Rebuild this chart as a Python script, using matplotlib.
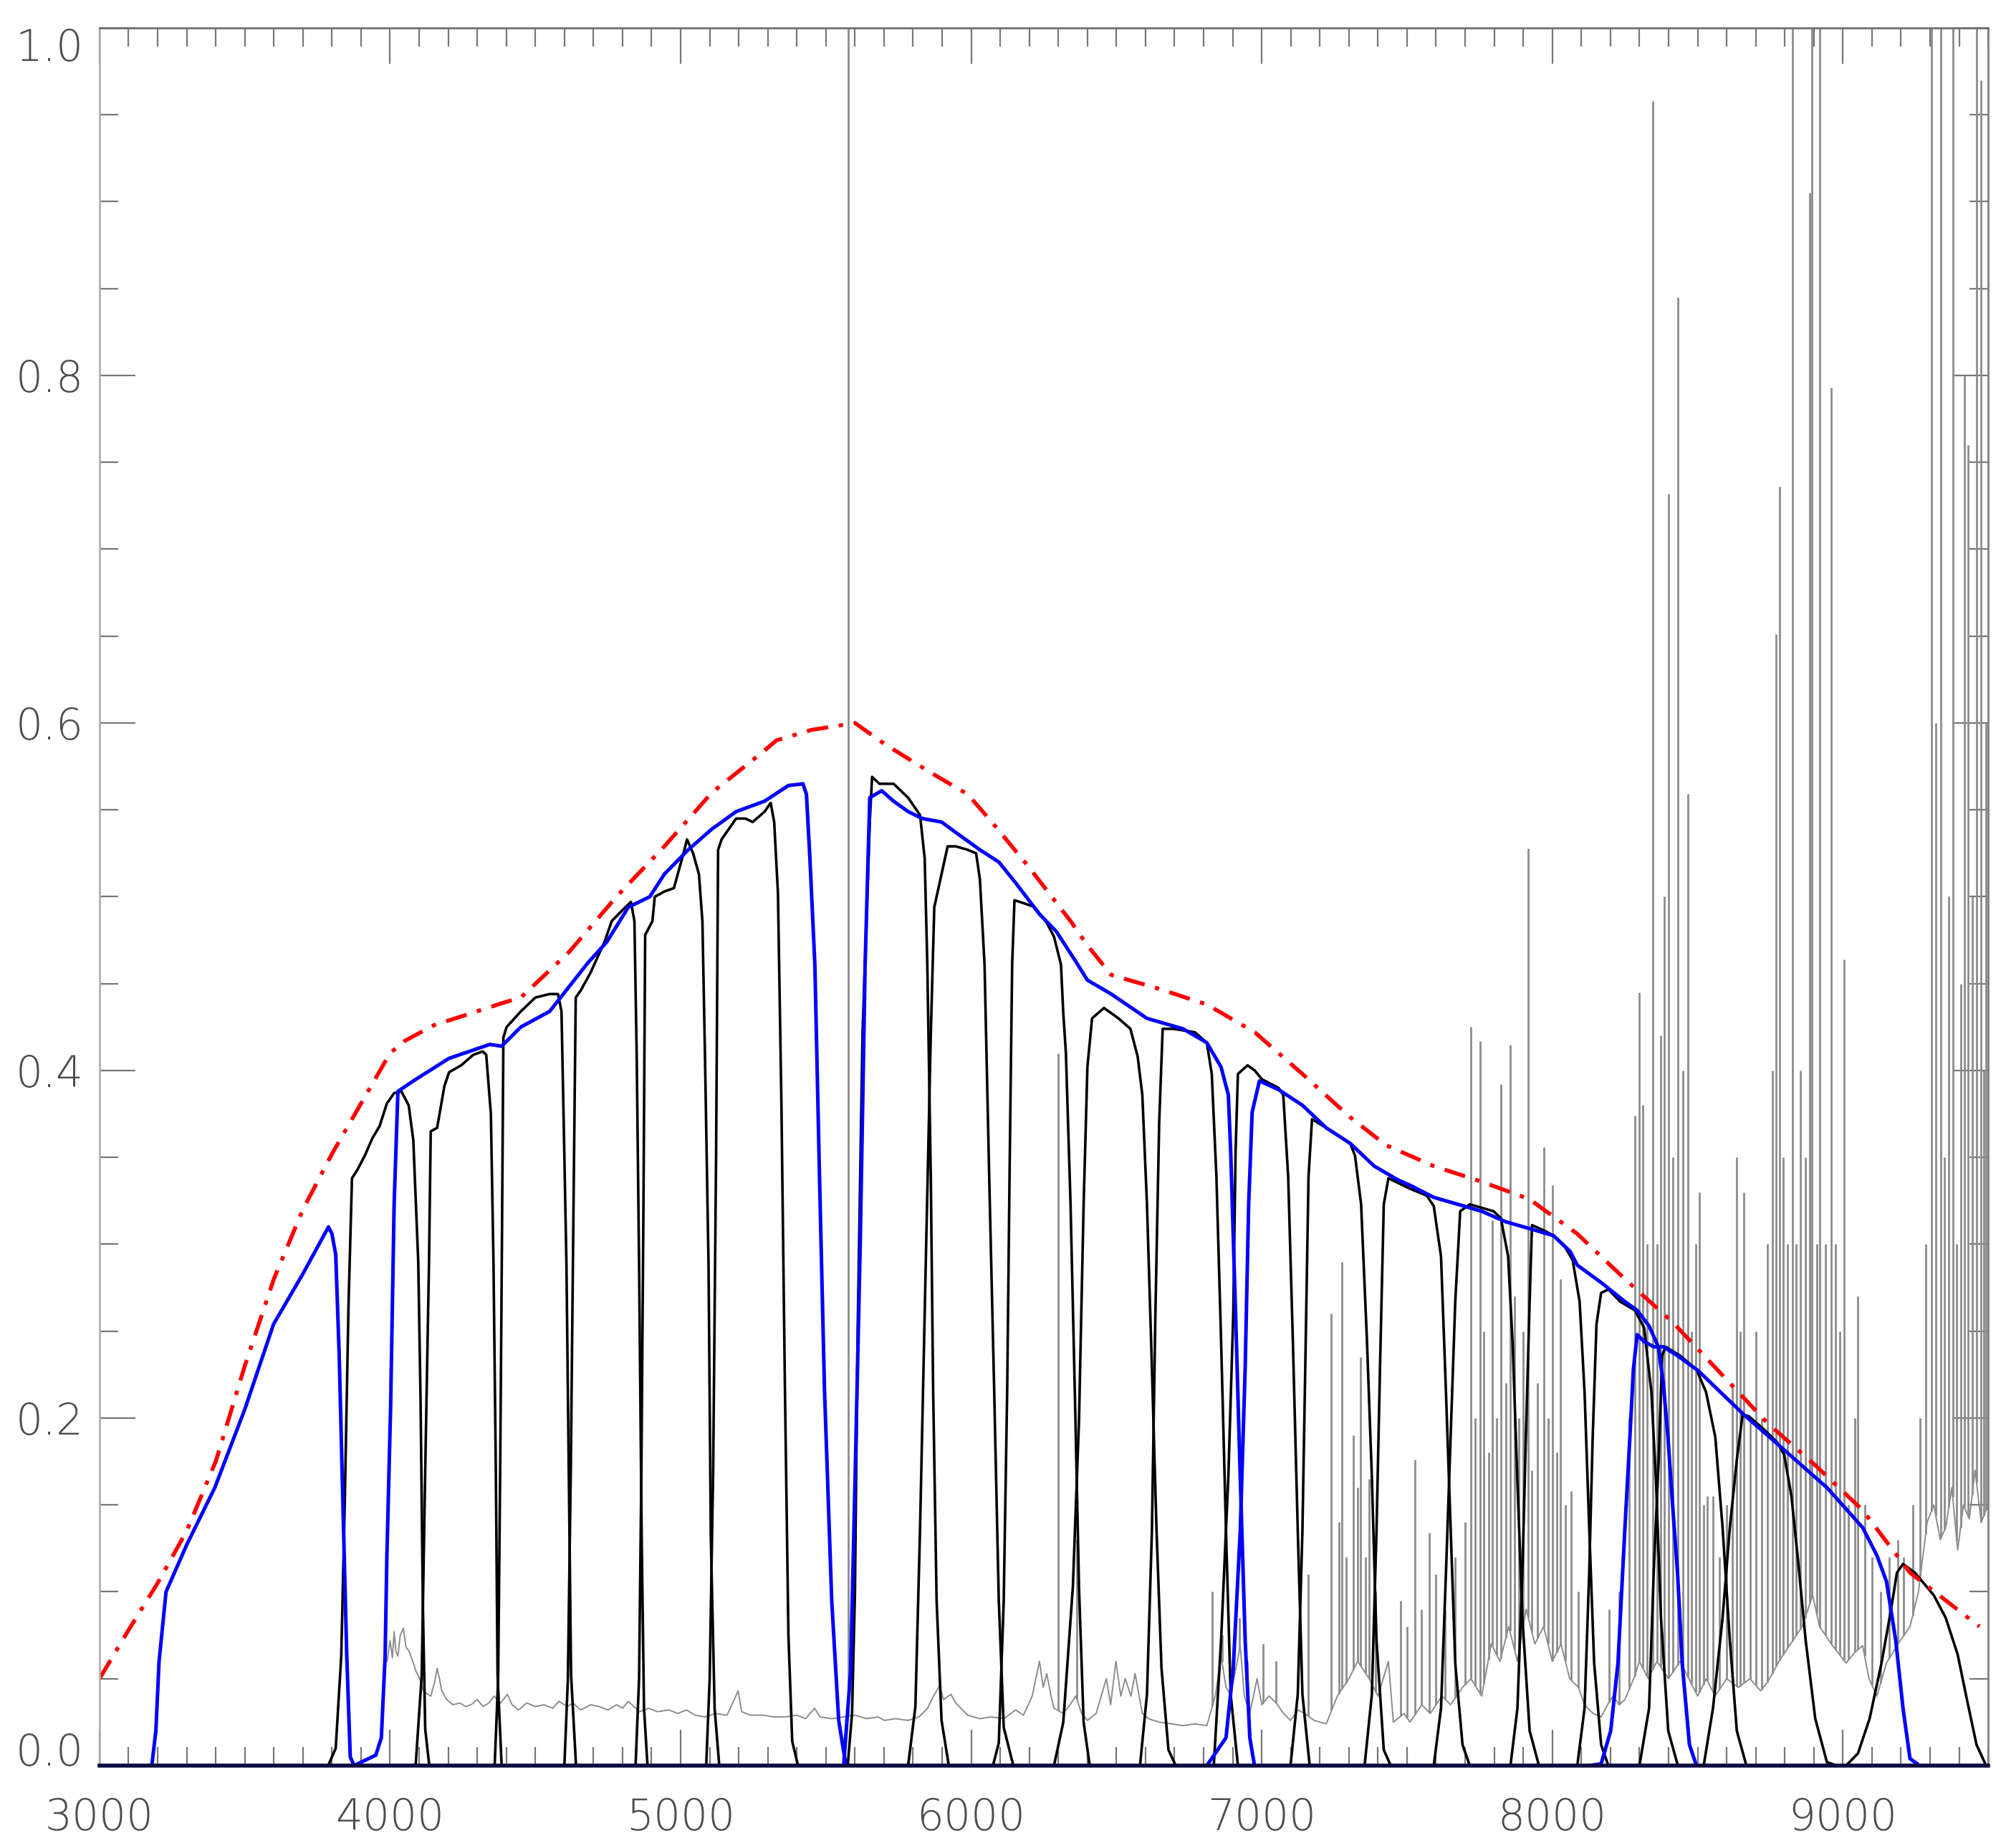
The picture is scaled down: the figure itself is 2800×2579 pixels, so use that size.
import numpy as np
import matplotlib
matplotlib.use('Agg')
import matplotlib.pyplot as plt
from matplotlib.ticker import MultipleLocator

# total throughput (red dash-dot)
tot_wl = [3000, 3100, 3200, 3300, 3400, 3500, 3600, 3700, 3800, 3900, 4000, 4050, 4150, 4280, 4390,
          4450, 4615, 4779, 4944, 5108, 5273, 5330, 5450, 5600, 5701, 5865, 5988, 6071, 6194, 6342,
          6400, 6482, 6647, 6811, 6976, 7140, 7305, 7428, 7592, 7757, 7921, 8086, 8250, 8415, 8578,
          8741, 8904, 9068, 9231, 9470]
tot_tr = [0.05, 0.078, 0.105, 0.135, 0.175, 0.23, 0.28, 0.32, 0.352, 0.381, 0.41, 0.417, 0.426, 0.433, 0.439,
          0.442, 0.468, 0.5, 0.529, 0.56, 0.582, 0.59, 0.596, 0.6, 0.588, 0.571, 0.559, 0.543, 0.518, 0.486,
          0.472, 0.455, 0.447, 0.438, 0.422, 0.398, 0.373, 0.357, 0.345, 0.336, 0.326, 0.306, 0.28, 0.255, 0.226,
          0.197, 0.173, 0.147, 0.111, 0.08]

# broad-band filters (blue)
bb1_wl = [3180, 3194, 3205, 3229, 3300, 3397, 3500, 3599, 3700, 3788, 3800, 3813, 3825, 3838, 3851, 3863, 3876]
bb1_tr = [0.0, 0.02, 0.06, 0.1, 0.127, 0.16, 0.205, 0.254, 0.283, 0.31, 0.306, 0.294, 0.236, 0.149, 0.063, 0.005, 0.0]

bb2_wl = [3876, 3901, 3951, 3970, 3983, 3989, 4002, 4014, 4027, 4080, 4203, 4343, 4384, 4450, 4549, 4615,
          4681, 4746, 4820, 4894, 4944, 5026, 5108, 5191, 5289, 5371, 5421, 5433, 5445, 5462, 5478, 5495,
          5520, 5544, 5569]
bb2_tr = [0.0, 0.002, 0.006, 0.016, 0.063, 0.12, 0.207, 0.323, 0.388, 0.394, 0.407, 0.415, 0.414, 0.425, 0.434, 0.448,
          0.462, 0.474, 0.494, 0.5, 0.513, 0.527, 0.539, 0.549, 0.555, 0.564, 0.565, 0.559, 0.522, 0.461, 0.339, 0.217,
          0.095, 0.026, 0.0]

bb3_wl = [5561, 5585, 5602, 5618, 5635, 5651, 5692, 5733, 5783, 5832, 5898, 5947, 6030, 6095, 6153, 6235,
          6293, 6359, 6400, 6482, 6605, 6729, 6811, 6860, 6885, 6893, 6910, 6926, 6943, 6959, 6975]
bb3_tr = [0.0, 0.054, 0.177, 0.299, 0.461, 0.557, 0.561, 0.555, 0.549, 0.545, 0.543, 0.537, 0.527, 0.52, 0.508, 0.49,
          0.48, 0.463, 0.452, 0.444, 0.43, 0.424, 0.416, 0.402, 0.386, 0.354, 0.26, 0.166, 0.072, 0.016, 0.0]

bb4_wl = [6811, 6877, 6902, 6926, 6943, 6955, 6967, 6992, 7058, 7140, 7222, 7305, 7387, 7469, 7510, 7592,
          7675, 7757, 7839, 7922, 8004, 8061, 8086, 8168, 8250, 8292, 8333, 8365, 8382, 8398, 8414, 8431,
          8447, 8472, 8496]
bb4_tr = [0.0, 0.016, 0.056, 0.135, 0.229, 0.323, 0.376, 0.394, 0.389, 0.38, 0.367, 0.358, 0.345, 0.337, 0.334, 0.327,
          0.323, 0.319, 0.313, 0.309, 0.305, 0.296, 0.288, 0.278, 0.267, 0.262, 0.253, 0.241, 0.22, 0.189, 0.15, 0.111,
          0.059, 0.012, 0.0]

bb5_wl = [8127, 8168, 8201, 8226, 8250, 8267, 8279, 8292, 8316, 8349, 8382, 8430, 8504, 8578, 8659, 8782,
          8945, 9068, 9117, 9150, 9182, 9207, 9231, 9264]
bb5_tr = [0.0, 0.001, 0.02, 0.059, 0.137, 0.189, 0.228, 0.248, 0.244, 0.241, 0.241, 0.236, 0.227, 0.215, 0.202, 0.184,
          0.16, 0.137, 0.121, 0.106, 0.072, 0.033, 0.004, 0.0]

# medium-band filters (black)
mb01_wl = [3787, 3813, 3832, 3844, 3857, 3869, 3888, 3913, 3939, 3964, 3989, 4014, 4039, 4064, 4080, 4097, 4105, 4113, 4121, 4135]
mb01_tr = [0.0, 0.01, 0.063, 0.15, 0.265, 0.338, 0.343, 0.351, 0.361, 0.368, 0.381, 0.387, 0.388, 0.38, 0.36, 0.29, 0.21, 0.092, 0.021, 0.0]
mb02_wl = [4088, 4109, 4121, 4134, 4140, 4162, 4187, 4203, 4245, 4286, 4319, 4331, 4347, 4356, 4364, 4370, 4384]
mb02_tr = [0.0, 0.052, 0.17, 0.289, 0.365, 0.367, 0.391, 0.399, 0.403, 0.409, 0.411, 0.409, 0.375, 0.289, 0.17, 0.052, 0.0]
mb03_wl = [4360, 4372, 4379, 4385, 4390, 4401, 4450, 4500, 4549, 4578, 4590, 4598, 4607, 4615, 4623, 4640]
mb03_tr = [0.0, 0.05, 0.17, 0.3, 0.419, 0.425, 0.434, 0.442, 0.444, 0.444, 0.434, 0.367, 0.289, 0.17, 0.052, 0.0]
mb04_wl = [4600, 4612, 4622, 4630, 4639, 4656, 4689, 4738, 4763, 4804, 4829, 4841, 4849, 4857, 4866, 4874, 4886]
mb04_tr = [0.0, 0.05, 0.17, 0.3, 0.442, 0.446, 0.456, 0.474, 0.486, 0.493, 0.497, 0.486, 0.407, 0.289, 0.131, 0.033, 0.0]
mb05_wl = [4845, 4857, 4865, 4872, 4878, 4903, 4911, 4944, 4977, 5010, 5022, 5043, 5063, 5075, 5084, 5096, 5104, 5117, 5133]
mb05_tr = [0.0, 0.05, 0.17, 0.32, 0.478, 0.486, 0.5, 0.503, 0.505, 0.525, 0.533, 0.525, 0.513, 0.486, 0.407, 0.289, 0.131, 0.033, 0.0]
mb06_wl = [5088, 5100, 5112, 5122, 5129, 5141, 5191, 5223, 5248, 5289, 5310, 5322, 5335, 5347, 5359, 5371, 5384, 5404]
mb06_tr = [0.0, 0.05, 0.17, 0.35, 0.527, 0.533, 0.545, 0.545, 0.543, 0.549, 0.554, 0.543, 0.502, 0.38, 0.217, 0.075, 0.014, 0.0]
mb07_wl = [5575, 5590, 5600, 5610, 5626, 5651, 5659, 5684, 5733, 5783, 5824, 5840, 5849, 5861, 5869, 5881, 5898, 5923]
mb07_tr = [0.0, 0.03, 0.1, 0.258, 0.421, 0.543, 0.569, 0.565, 0.565, 0.557, 0.547, 0.522, 0.461, 0.339, 0.217, 0.095, 0.026, 0.0]
mb08_wl = [5783, 5808, 5824, 5845, 5861, 5873, 5894, 5919, 5947, 5988, 6017, 6030, 6046, 6062, 6079, 6095, 6112, 6145]
mb08_tr = [0.0, 0.034, 0.136, 0.299, 0.421, 0.494, 0.51, 0.529, 0.529, 0.527, 0.525, 0.51, 0.461, 0.339, 0.217, 0.095, 0.022, 0.0]
mb09_wl = [6075, 6095, 6112, 6124, 6132, 6141, 6149, 6186, 6219, 6260, 6285, 6309, 6317, 6326, 6342, 6359, 6371, 6387, 6408]
mb09_tr = [0.0, 0.013, 0.095, 0.217, 0.339, 0.461, 0.498, 0.496, 0.494, 0.485, 0.477, 0.461, 0.433, 0.41, 0.323, 0.198, 0.103, 0.025, 0.0]
mb10_wl = [6285, 6317, 6350, 6371, 6387, 6400, 6416, 6457, 6507, 6548, 6573, 6589, 6605, 6622, 6638, 6655, 6679, 6704]
mb10_tr = [0.0, 0.025, 0.103, 0.198, 0.323, 0.402, 0.43, 0.436, 0.43, 0.424, 0.408, 0.386, 0.323, 0.229, 0.135, 0.056, 0.009, 0.0]
mb11_wl = [6581, 6605, 6622, 6634, 6647, 6659, 6696, 6770, 6811, 6828, 6844, 6860, 6877, 6893, 6918]
mb11_tr = [0.0, 0.041, 0.135, 0.26, 0.37, 0.424, 0.424, 0.422, 0.416, 0.398, 0.339, 0.245, 0.135, 0.041, 0.0]
mb12_wl = [6835, 6860, 6885, 6902, 6910, 6918, 6951, 6976, 7000, 7058, 7074, 7091, 7107, 7124, 7140, 7165]
mb12_tr = [0.0, 0.072, 0.166, 0.26, 0.354, 0.398, 0.403, 0.4, 0.395, 0.39, 0.386, 0.339, 0.245, 0.135, 0.041, 0.0]
mb13_wl = [7099, 7124, 7140, 7153, 7161, 7173, 7222, 7305, 7321, 7342, 7362, 7379, 7395, 7420, 7444]
mb13_tr = [0.0, 0.041, 0.135, 0.26, 0.339, 0.372, 0.367, 0.358, 0.351, 0.323, 0.245, 0.166, 0.072, 0.009, 0.0]
mb14_wl = [7354, 7379, 7395, 7407, 7420, 7436, 7510, 7568, 7592, 7617, 7634, 7650, 7666, 7691, 7716]
mb14_tr = [0.0, 0.041, 0.135, 0.229, 0.323, 0.338, 0.332, 0.328, 0.322, 0.293, 0.215, 0.137, 0.059, 0.012, 0.0]
mb15_wl = [7592, 7617, 7634, 7650, 7666, 7683, 7716, 7798, 7823, 7848, 7864, 7880, 7897, 7922, 7954]
mb15_tr = [0.0, 0.033, 0.111, 0.189, 0.267, 0.319, 0.323, 0.319, 0.315, 0.293, 0.241, 0.163, 0.085, 0.02, 0.0]
mb16_wl = [7856, 7880, 7897, 7909, 7922, 7930, 7971, 8004, 8045, 8070, 8094, 8111, 8127, 8144, 8168, 8193]
mb16_tr = [0.0, 0.033, 0.111, 0.189, 0.267, 0.311, 0.308, 0.305, 0.298, 0.291, 0.267, 0.215, 0.137, 0.059, 0.012, 0.0]
mb17_wl = [8086, 8111, 8127, 8139, 8152, 8168, 8193, 8234, 8284, 8316, 8341, 8357, 8374, 8399, 8432]
mb17_tr = [0.0, 0.033, 0.111, 0.189, 0.254, 0.272, 0.274, 0.267, 0.262, 0.252, 0.215, 0.163, 0.085, 0.02, 0.0]
mb18_wl = [8300, 8333, 8349, 8366, 8378, 8390, 8439, 8496, 8529, 8561, 8586, 8611, 8635, 8668]
mb18_tr = [0.0, 0.033, 0.111, 0.176, 0.236, 0.241, 0.236, 0.228, 0.215, 0.189, 0.137, 0.072, 0.02, 0.0]
mb19_wl = [8521, 8553, 8586, 8611, 8635, 8655, 8676, 8725, 8774, 8798, 8823, 8847, 8872, 8905, 8945, 8978]
mb19_tr = [0.0, 0.033, 0.085, 0.137, 0.176, 0.202, 0.201, 0.194, 0.186, 0.179, 0.155, 0.116, 0.072, 0.027, 0.002, 0.0]
mb20_wl = [9011, 9052, 9092, 9133, 9166, 9186, 9207, 9248, 9313, 9354, 9395, 9427, 9460, 9493]
mb20_tr = [0.0, 0.007, 0.027, 0.059, 0.09, 0.111, 0.116, 0.111, 0.098, 0.085, 0.064, 0.038, 0.012, 0.0]

# night sky spectrum (gray): continuum samples
sky_wl = [3990, 4000, 4008, 4014, 4020, 4027, 4035, 4046, 4055, 4065, 4078, 4090, 4102, 4115, 4130, 4140,
          4152, 4162, 4170, 4178, 4195, 4216, 4240, 4260, 4279, 4300, 4320, 4340, 4358, 4380, 4404, 4420,
          4442, 4470, 4500, 4530, 4560, 4581, 4610, 4630, 4656, 4690, 4719, 4750, 4780, 4800, 4820, 4858,
          4890, 4920, 4960, 4990, 5020, 5050, 5084, 5120, 5160, 5198, 5210, 5240, 5286, 5320, 5361, 5400,
          5430, 5461, 5480, 5520, 5560, 5600, 5640, 5680, 5701, 5740, 5783, 5820, 5850, 5870, 5892, 5905,
          5930, 5947, 5970, 5988, 6030, 6070, 6112, 6153, 6180, 6210, 6235, 6248, 6260, 6275, 6285, 6317,
          6340, 6360, 6380, 6400, 6430, 6465, 6480, 6498, 6515, 6530, 6550, 6564, 6589, 6610, 6647, 6690,
          6729, 6770, 6811, 6840, 6860, 6877, 6893, 6910, 6926, 6940, 6959, 6984, 7000, 7025, 7050, 7075,
          7099, 7125, 7148, 7180, 7222, 7260, 7300, 7330, 7370, 7400, 7436, 7453, 7490, 7510, 7551, 7580,
          7620, 7650, 7691, 7720, 7757, 7790, 7820, 7850, 7880, 7910, 7940, 7970, 8000, 8030, 8060, 8090,
          8111, 8140, 8168, 8190, 8209, 8230, 8250, 8280, 8300, 8330, 8360, 8400, 8440, 8470, 8500, 8530,
          8560, 8600, 8640, 8680, 8717, 8741, 8780, 8820, 8860, 8896, 8920, 8960, 9011, 9040, 9068, 9090,
          9117, 9150, 9190, 9231, 9260, 9290, 9313, 9335, 9354, 9375, 9395, 9415, 9435, 9455, 9476, 9500]
sky_val = [0.06, 0.072, 0.062, 0.077, 0.066, 0.063, 0.075, 0.079, 0.068, 0.066, 0.06, 0.054, 0.05, 0.043, 0.041, 0.04,
           0.047, 0.056, 0.05, 0.043, 0.038, 0.035, 0.036, 0.034, 0.035, 0.038, 0.034, 0.036, 0.04, 0.036, 0.041, 0.035,
           0.032, 0.036, 0.034, 0.035, 0.033, 0.037, 0.034, 0.036, 0.032, 0.035, 0.034, 0.032, 0.035, 0.033, 0.037, 0.031,
           0.033, 0.031, 0.032, 0.03, 0.032, 0.029, 0.028, 0.03, 0.029, 0.043, 0.031, 0.029, 0.029, 0.028, 0.028, 0.029,
           0.027, 0.033, 0.028, 0.027, 0.028, 0.029, 0.027, 0.028, 0.026, 0.027, 0.026, 0.028, 0.033, 0.04, 0.046, 0.038,
           0.041, 0.036, 0.032, 0.029, 0.027, 0.028, 0.027, 0.032, 0.029, 0.04, 0.06, 0.045, 0.053, 0.04, 0.033, 0.03,
           0.035, 0.04, 0.03, 0.026, 0.03, 0.05, 0.035, 0.06, 0.04, 0.05, 0.04, 0.053, 0.03, 0.027, 0.025, 0.024,
           0.023, 0.024, 0.023, 0.04, 0.063, 0.045, 0.041, 0.055, 0.069, 0.04, 0.03, 0.05, 0.035, 0.04, 0.036, 0.03,
           0.026, 0.032, 0.03, 0.026, 0.024, 0.04, 0.05, 0.06, 0.05, 0.04, 0.06, 0.025, 0.03, 0.025, 0.035, 0.03,
           0.04, 0.035, 0.045, 0.05, 0.04, 0.07, 0.06, 0.08, 0.06, 0.09, 0.07, 0.08, 0.06, 0.07, 0.05, 0.045,
           0.035, 0.03, 0.028, 0.035, 0.04, 0.035, 0.038, 0.05, 0.06, 0.05, 0.06, 0.05, 0.06, 0.05, 0.04, 0.05,
           0.04, 0.05, 0.045, 0.05, 0.043, 0.048, 0.06, 0.07, 0.08, 0.098, 0.08, 0.07, 0.059, 0.065, 0.069, 0.05,
           0.04, 0.059, 0.07, 0.08, 0.1, 0.14, 0.15, 0.13, 0.137, 0.16, 0.124, 0.15, 0.142, 0.17, 0.14, 0.15]

# night sky emission lines: wavelength and peak height
line_wl = [5577, 6300, 6364, 6830, 6863, 6923, 6950, 7005, 7050, 7160, 7240, 7265, 7276, 7290, 7316, 7329,
           7341, 7358, 7370, 7392, 7477, 7500, 7527, 7550, 7576, 7600, 7630, 7665, 7700, 7720, 7735, 7751,
           7765, 7780, 7794, 7808, 7823, 7840, 7854, 7870, 7885, 7900, 7917, 7930, 7950, 7971, 7985, 8000,
           8015, 8028, 8045, 8066, 8090, 8195, 8230, 8265, 8283, 8299, 8312, 8325, 8346, 8360, 8372, 8385,
           8399, 8415, 8431, 8450, 8467, 8480, 8493, 8506, 8520, 8534, 8553, 8575, 8600, 8620, 8635, 8647,
           8660, 8680, 8700, 8720, 8740, 8757, 8771, 8783, 8795, 8810, 8827, 8840, 8855, 8870, 8887, 8893,
           8910, 8921, 8940, 8959, 8975, 8990, 9003, 9020, 9040, 9052, 9075, 9100, 9130, 9160, 9190, 9210,
           9240, 9265, 9285, 9305, 9320, 9338, 9350, 9365, 9378, 9392, 9405, 9419, 9430, 9445, 9460, 9476,
           9485, 9493]
line_pk = [1.02, 0.41, 0.13, 0.10, 0.075, 0.085, 0.06, 0.07, 0.06, 0.11, 0.26, 0.14, 0.29, 0.12, 0.19, 0.16,
           0.235, 0.12, 0.165, 0.1, 0.095, 0.08, 0.176, 0.09, 0.134, 0.11, 0.09, 0.12, 0.14, 0.425, 0.2, 0.417,
           0.25, 0.18, 0.314, 0.2, 0.392, 0.22, 0.415, 0.27, 0.2, 0.25, 0.528, 0.17, 0.22, 0.356, 0.2, 0.334,
           0.18, 0.28, 0.15, 0.158, 0.1, 0.09, 0.1, 0.2, 0.374, 0.445, 0.38, 0.3, 0.958, 0.3, 0.42, 0.5,
           0.732, 0.35, 0.845, 0.4, 0.559, 0.25, 0.3, 0.33, 0.15, 0.155, 0.155, 0.12, 0.15, 0.22, 0.35, 0.25,
           0.33, 0.2, 0.25, 0.2, 0.3, 0.4, 0.651, 0.736, 0.35, 0.3, 1.1, 0.3, 0.4, 0.35, 0.905, 1.1,
           0.3, 1.1, 0.3, 0.793, 0.3, 0.25, 0.464, 0.15, 0.2, 0.27, 0.15, 0.12, 0.1, 0.12, 0.13, 0.12,
           0.15, 0.2, 0.3, 1.1, 0.6, 1.1, 0.35, 0.5, 1.1, 0.3, 0.45, 0.8, 0.76, 0.5, 1.1, 0.97,
           0.4, 0.6]

x_ticks = [3000, 4000, 5000, 6000, 7000, 8000, 9000]
y_ticks = [0.0, 0.2, 0.4, 0.6, 0.8, 1.0]

bb_curves = [(bb1_wl, bb1_tr), (bb2_wl, bb2_tr), (bb3_wl, bb3_tr), (bb4_wl, bb4_tr), (bb5_wl, bb5_tr)]
mb_curves = [(mb01_wl, mb01_tr), (mb02_wl, mb02_tr), (mb03_wl, mb03_tr), (mb04_wl, mb04_tr),
             (mb05_wl, mb05_tr), (mb06_wl, mb06_tr), (mb07_wl, mb07_tr), (mb08_wl, mb08_tr),
             (mb09_wl, mb09_tr), (mb10_wl, mb10_tr), (mb11_wl, mb11_tr), (mb12_wl, mb12_tr),
             (mb13_wl, mb13_tr), (mb14_wl, mb14_tr), (mb15_wl, mb15_tr), (mb16_wl, mb16_tr),
             (mb17_wl, mb17_tr), (mb18_wl, mb18_tr), (mb19_wl, mb19_tr), (mb20_wl, mb20_tr)]

fig = plt.figure(figsize=(28, 25.79), dpi=100)
ax = fig.add_axes([0.0496, 0.0446, 0.9415, 0.9403])

# sky spectrum
ax.plot(sky_wl, sky_val, color='#8c8c8c', lw=1.4)
line_base = np.interp(line_wl, sky_wl, sky_val)
ax.vlines(line_wl, line_base, line_pk, color='#8c8c8c', lw=2.0)

# filters
for wl, tr in mb_curves:
    ax.plot(wl, tr, color='black', lw=2.6)
for wl, tr in bb_curves:
    ax.plot(wl, tr, color='#0000ff', lw=3.6)
ax.plot(tot_wl, tot_tr, color='#ff0000', lw=4, ls=(0, (5.4, 2.7, 1.1, 2.7)))

ax.set_xlim(3000, 9500)
ax.set_ylim(0, 1.0)

ax.set_xticks(x_ticks)
ax.set_xticklabels([str(v) for v in x_ticks])
ax.set_yticks(y_ticks)
ax.set_yticklabels(['%.1f' % v for v in y_ticks])
ax.xaxis.set_minor_locator(MultipleLocator(100))
ax.yaxis.set_minor_locator(MultipleLocator(0.05))

ax.tick_params(which='both', direction='in', top=True, right=True, color='#777777', width=1.6)
ax.tick_params(which='major', length=36)
ax.tick_params(which='minor', length=19)
ax.tick_params(axis='x', pad=32, labelsize=43, labelcolor='#4d4d4d')
ax.tick_params(axis='y', pad=16, labelsize=43, labelcolor='#4d4d4d')
for lab in ax.get_xticklabels() + ax.get_yticklabels():
    lab.set_fontweight('light')

ylabs = ax.get_yticklabels()
ylabs[0].set_va('baseline')
ylabs[-1].set_va('top')

ax.spines['left'].set_color('#b0b0b0')
ax.spines['top'].set_color('#707070')
ax.spines['right'].set_color('#808080')
ax.spines['bottom'].set_color('#0b0b40')
ax.spines['bottom'].set_linewidth(4)
for s in ['left', 'top', 'right']:
    ax.spines[s].set_linewidth(2)

fig.savefig('out.png', dpi=100)
